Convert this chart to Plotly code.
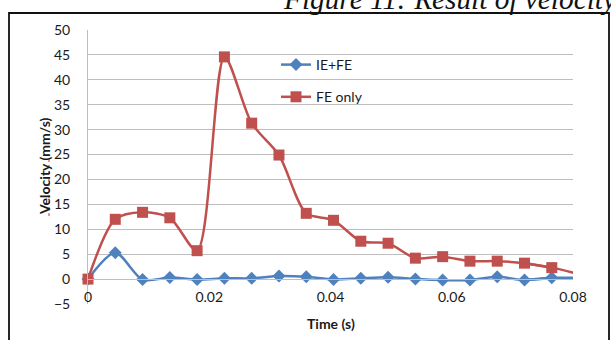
import plotly.graph_objects as go

# Sample times (s) and measured velocities (mm/s)
time_s = [0.0, 0.0045, 0.009, 0.0135, 0.018, 0.0225, 0.027, 0.0315, 0.036,
          0.0405, 0.045, 0.0495, 0.054, 0.0585, 0.063, 0.0675, 0.072, 0.0765, 0.081]
ie_fe = [0.0, 5.3, -0.1, 0.3, -0.1, 0.15, 0.15, 0.6, 0.45,
         -0.1, 0.15, 0.35, 0.0, -0.2, -0.2, 0.45, -0.2, 0.25, 0.25]
fe_only = [0.0, 12.0, 13.4, 12.3, 5.7, 44.6, 31.3, 24.9, 13.2,
           11.8, 7.6, 7.2, 4.2, 4.5, 3.6, 3.6, 3.2, 2.3, 1.0]

series_names = ["IE+FE", "FE only"]
x_ticks = [0, 0.02, 0.04, 0.06, 0.08]
x_tick_text = ["0", "0.02", "0.04", "0.06", "0.08"]
y_ticks = list(range(-5, 55, 5))
x_max = 0.08

W, H = 611, 340
L, R, T, B = 88, 38, 30, 36
plot_w, plot_h = W - L - R, H - T - B


def px_x(px):
    return (px - L) / plot_w


def px_y(py):
    return (H - B - py) / plot_h


FONT = "Lato, 'Open Sans', sans-serif"
BLUE = "#4f81bd"
RED = "#c0504d"
GRID = "#bebebe"
TEXT = "#1a1a1a"

fig = go.Figure()

# Samples inside the axis range get markers; the sample past the right edge
# only continues the line, which the plot area clips.
n_in = sum(1 for t in time_s if t <= x_max)
series = [
    (series_names[0], ie_fe, BLUE, dict(symbol="diamond", size=10)),
    (series_names[1], fe_only, RED, dict(symbol="square", size=11)),
]
for name, values, color, mk in series:
    fig.add_trace(go.Scatter(
        x=time_s[n_in - 2:], y=values[n_in - 2:], mode="lines",
        line=dict(color=color, width=2.5, shape="spline", smoothing=0.8),
        showlegend=False, hoverinfo="skip",
    ))
for i, (name, values, color, mk) in enumerate(series):
    fig.add_trace(go.Scatter(
        x=time_s[:n_in], y=values[:n_in], name=name, mode="lines+markers",
        line=dict(color=color, width=2.5, shape="spline", smoothing=0.8),
        marker=dict(color=color, **mk),
        cliponaxis=False, legendgroup=f"g{i}",
    ))

fig.update_layout(
    width=W, height=H,
    margin=dict(l=L, r=R, t=T, b=B, pad=0),
    paper_bgcolor="white", plot_bgcolor="white",
    font=dict(family=FONT, size=14, color=TEXT),
    showlegend=True,
    legend=dict(
        x=px_x(276), y=px_y(49), xanchor="left", yanchor="top",
        bgcolor="rgba(255,255,255,0)", borderwidth=0,
        font=dict(family=FONT, size=14, color=TEXT),
        tracegroupgap=11, itemwidth=30,
    ),
    xaxis=dict(
        range=[0, x_max], tickvals=x_ticks, ticktext=x_tick_text,
        showgrid=False, zeroline=False,
        showline=True, linecolor=GRID, linewidth=1,
        anchor="free", position=5 / 55,
        ticks="", ticklabelstandoff=5,
        tickfont=dict(family=FONT, size=14, color=TEXT),
    ),
    yaxis=dict(
        range=[-5, 50], tickvals=y_ticks,
        showgrid=True, gridcolor=GRID, gridwidth=1,
        zeroline=False, showline=True, linecolor=GRID, linewidth=1,
        ticks="", ticklabelstandoff=14,
        tickfont=dict(family=FONT, size=14, color=TEXT),
    ),
)

# Axis titles
fig.add_annotation(
    text="<b>Time (s)</b>", xref="paper", yref="paper",
    x=px_x(331), y=px_y(323), xanchor="center", yanchor="middle",
    showarrow=False, font=dict(family=FONT, size=14, color=TEXT),
)
fig.add_annotation(
    text="<b>Velocity (mm/s)</b>", xref="paper", yref="paper",
    x=px_x(44), y=px_y(166), xanchor="center", yanchor="middle",
    textangle=-90, showarrow=False,
    font=dict(family=FONT, size=14, color=TEXT),
)

# Caption line above the chart frame
fig.add_annotation(
    text="<i>Figure 11: Result of velocity</i>", xref="paper", yref="paper",
    x=px_x(281), y=px_y(17), xanchor="left", yanchor="bottom",
    showarrow=False,
    font=dict(family="'Liberation Serif', 'DejaVu Serif', serif", size=29.3, color="#111111"),
)

# Chart frame
fig.add_shape(
    type="rect", xref="paper", yref="paper",
    x0=px_x(9), x1=px_x(609), y0=px_y(360), y1=px_y(13),
    line=dict(color="#111111", width=1.8), fillcolor="rgba(0,0,0,0)", layer="above",
)

# Spell-check underline beneath the axis title word
fig.add_shape(
    type="line", xref="paper", yref="paper",
    x0=px_x(49), x1=px_x(49), y0=px_y(216), y1=px_y(157),
    line=dict(color="#e03030", width=1, dash="dot"),
)

fig.write_html("out.html")
